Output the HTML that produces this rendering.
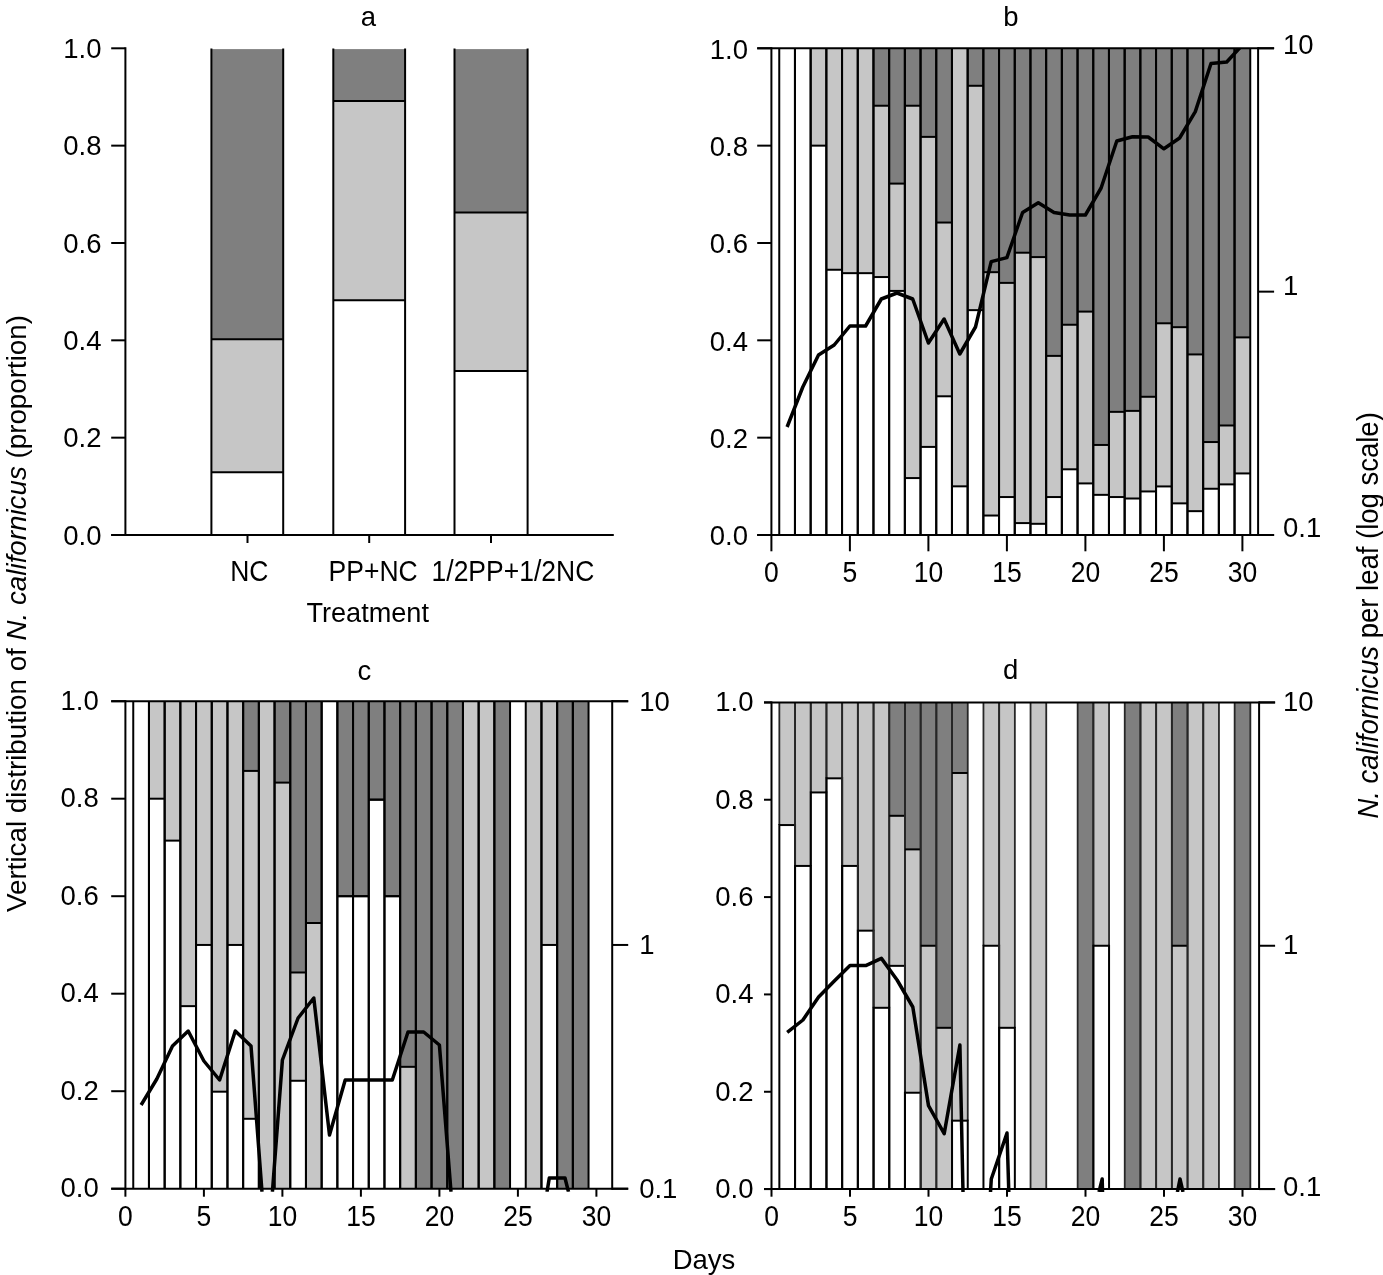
<!DOCTYPE html>
<html><head><meta charset="utf-8"><style>
html,body{margin:0;padding:0;background:#fff;}
body{width:1383px;height:1275px;overflow:hidden;}
svg{display:block;font-family:"Liberation Sans",sans-serif;filter:grayscale(100%);}
</style></head><body>
<svg width="1383" height="1275" viewBox="0 0 1383 1275">
<rect width="1383" height="1275" fill="#fff"/>
<defs>
<clipPath id="clipb"><rect x="771.4" y="48.3" width="486.69999999999993" height="489.7"/></clipPath>
<clipPath id="clipc"><rect x="125.4" y="701.2" width="486.80000000000007" height="490.5"/></clipPath>
<clipPath id="clipd"><rect x="771.5" y="702.4" width="487.5999999999999" height="489.69999999999993"/></clipPath>
</defs>
<g font-family="Liberation Sans, sans-serif" fill="#000">
<rect x="211.40" y="472.22" width="71.80" height="62.78" fill="#fff"/>
<rect x="211.40" y="339.35" width="71.80" height="132.87" fill="#c6c6c6"/>
<rect x="211.40" y="49.10" width="71.80" height="290.25" fill="#7f7f7f"/>
<rect x="333.30" y="300.17" width="71.80" height="234.83" fill="#fff"/>
<rect x="333.30" y="101.06" width="71.80" height="199.11" fill="#c6c6c6"/>
<rect x="333.30" y="49.10" width="71.80" height="51.96" fill="#7f7f7f"/>
<rect x="454.50" y="370.98" width="73.10" height="164.02" fill="#fff"/>
<rect x="454.50" y="212.61" width="73.10" height="158.37" fill="#c6c6c6"/>
<rect x="454.50" y="49.10" width="73.10" height="163.51" fill="#7f7f7f"/>
<line x1="211.40" y1="535.00" x2="211.40" y2="48.60" stroke="#000" stroke-width="2.0"/>
<line x1="283.20" y1="535.00" x2="283.20" y2="48.60" stroke="#000" stroke-width="2.0"/>
<line x1="211.40" y1="472.22" x2="283.20" y2="472.22" stroke="#000" stroke-width="2.0"/>
<line x1="211.40" y1="339.35" x2="283.20" y2="339.35" stroke="#000" stroke-width="2.0"/>
<line x1="333.30" y1="535.00" x2="333.30" y2="48.60" stroke="#000" stroke-width="2.0"/>
<line x1="405.10" y1="535.00" x2="405.10" y2="48.60" stroke="#000" stroke-width="2.0"/>
<line x1="333.30" y1="300.17" x2="405.10" y2="300.17" stroke="#000" stroke-width="2.0"/>
<line x1="333.30" y1="101.06" x2="405.10" y2="101.06" stroke="#000" stroke-width="2.0"/>
<line x1="454.50" y1="535.00" x2="454.50" y2="48.60" stroke="#000" stroke-width="2.0"/>
<line x1="527.60" y1="535.00" x2="527.60" y2="48.60" stroke="#000" stroke-width="2.0"/>
<line x1="454.50" y1="370.98" x2="527.60" y2="370.98" stroke="#000" stroke-width="2.0"/>
<line x1="454.50" y1="212.61" x2="527.60" y2="212.61" stroke="#000" stroke-width="2.0"/>
<line x1="125.40" y1="47.30" x2="125.40" y2="536.00" stroke="#000" stroke-width="2.0"/>
<line x1="111.20" y1="535.00" x2="613.80" y2="535.00" stroke="#000" stroke-width="2.0"/>
<line x1="111.20" y1="535.00" x2="125.40" y2="535.00" stroke="#000" stroke-width="2.0"/>
<text x="101.50" y="544.60" text-anchor="end" font-size="27.5" >0.0</text>
<line x1="111.20" y1="437.66" x2="125.40" y2="437.66" stroke="#000" stroke-width="2.0"/>
<text x="101.50" y="447.26" text-anchor="end" font-size="27.5" >0.2</text>
<line x1="111.20" y1="340.32" x2="125.40" y2="340.32" stroke="#000" stroke-width="2.0"/>
<text x="101.50" y="349.92" text-anchor="end" font-size="27.5" >0.4</text>
<line x1="111.20" y1="242.98" x2="125.40" y2="242.98" stroke="#000" stroke-width="2.0"/>
<text x="101.50" y="252.58" text-anchor="end" font-size="27.5" >0.6</text>
<line x1="111.20" y1="145.64" x2="125.40" y2="145.64" stroke="#000" stroke-width="2.0"/>
<text x="101.50" y="155.24" text-anchor="end" font-size="27.5" >0.8</text>
<line x1="111.20" y1="48.30" x2="125.40" y2="48.30" stroke="#000" stroke-width="2.0"/>
<text x="101.50" y="57.90" text-anchor="end" font-size="27.5" >1.0</text>
<line x1="247.50" y1="535.00" x2="247.50" y2="543.00" stroke="#000" stroke-width="2.0"/>
<line x1="369.20" y1="535.00" x2="369.20" y2="543.00" stroke="#000" stroke-width="2.0"/>
<line x1="491.00" y1="535.00" x2="491.00" y2="543.00" stroke="#000" stroke-width="2.0"/>
<text transform="translate(249.30,581.40) scale(1,1.14)" text-anchor="middle" font-size="26.5" >NC</text>
<text transform="translate(373.10,581.40) scale(1,1.14)" text-anchor="middle" font-size="26.5" >PP+NC</text>
<text transform="translate(512.90,581.40) scale(1,1.14)" text-anchor="middle" font-size="26.5" >1/2PP+1/2NC</text>
<text x="367.70" y="621.50" text-anchor="middle" font-size="27.1" >Treatment</text>
<text x="368.30" y="25.50" text-anchor="middle" font-size="27.5" >a</text>
<rect x="779.25" y="48.30" width="15.70" height="486.70" fill="#fff"/>
<rect x="794.95" y="48.30" width="15.70" height="486.70" fill="#fff"/>
<rect x="810.65" y="145.64" width="15.70" height="389.36" fill="#fff"/>
<rect x="810.65" y="48.30" width="15.70" height="97.34" fill="#c6c6c6"/>
<rect x="826.35" y="269.75" width="15.70" height="265.25" fill="#fff"/>
<rect x="826.35" y="48.30" width="15.70" height="221.45" fill="#c6c6c6"/>
<rect x="842.05" y="273.16" width="15.70" height="261.84" fill="#fff"/>
<rect x="842.05" y="48.30" width="15.70" height="224.86" fill="#c6c6c6"/>
<rect x="857.75" y="273.16" width="15.70" height="261.84" fill="#fff"/>
<rect x="857.75" y="48.30" width="15.70" height="224.86" fill="#c6c6c6"/>
<rect x="873.45" y="277.05" width="15.70" height="257.95" fill="#fff"/>
<rect x="873.45" y="105.73" width="15.70" height="171.32" fill="#c6c6c6"/>
<rect x="873.45" y="48.30" width="15.70" height="57.43" fill="#7f7f7f"/>
<rect x="889.15" y="290.92" width="15.70" height="244.08" fill="#fff"/>
<rect x="889.15" y="183.60" width="15.70" height="107.32" fill="#c6c6c6"/>
<rect x="889.15" y="48.30" width="15.70" height="135.30" fill="#7f7f7f"/>
<rect x="904.85" y="478.06" width="15.70" height="56.94" fill="#fff"/>
<rect x="904.85" y="105.73" width="15.70" height="372.33" fill="#c6c6c6"/>
<rect x="904.85" y="48.30" width="15.70" height="57.43" fill="#7f7f7f"/>
<rect x="920.55" y="446.91" width="15.70" height="88.09" fill="#fff"/>
<rect x="920.55" y="136.88" width="15.70" height="310.03" fill="#c6c6c6"/>
<rect x="920.55" y="48.30" width="15.70" height="88.58" fill="#7f7f7f"/>
<rect x="936.25" y="396.29" width="15.70" height="138.71" fill="#fff"/>
<rect x="936.25" y="222.54" width="15.70" height="173.75" fill="#c6c6c6"/>
<rect x="936.25" y="48.30" width="15.70" height="174.24" fill="#7f7f7f"/>
<rect x="951.95" y="486.33" width="15.70" height="48.67" fill="#fff"/>
<rect x="951.95" y="48.30" width="15.70" height="438.03" fill="#c6c6c6"/>
<rect x="967.65" y="310.14" width="15.70" height="224.86" fill="#fff"/>
<rect x="967.65" y="85.78" width="15.70" height="224.37" fill="#c6c6c6"/>
<rect x="967.65" y="48.30" width="15.70" height="37.48" fill="#7f7f7f"/>
<rect x="983.35" y="515.53" width="15.70" height="19.47" fill="#fff"/>
<rect x="983.35" y="272.18" width="15.70" height="243.35" fill="#c6c6c6"/>
<rect x="983.35" y="48.30" width="15.70" height="223.88" fill="#7f7f7f"/>
<rect x="999.05" y="497.04" width="15.70" height="37.96" fill="#fff"/>
<rect x="999.05" y="282.89" width="15.70" height="214.15" fill="#c6c6c6"/>
<rect x="999.05" y="48.30" width="15.70" height="234.59" fill="#7f7f7f"/>
<rect x="1014.75" y="523.08" width="15.70" height="11.92" fill="#fff"/>
<rect x="1014.75" y="252.71" width="15.70" height="270.36" fill="#c6c6c6"/>
<rect x="1014.75" y="48.30" width="15.70" height="204.41" fill="#7f7f7f"/>
<rect x="1030.45" y="523.81" width="15.70" height="11.19" fill="#fff"/>
<rect x="1030.45" y="257.09" width="15.70" height="266.71" fill="#c6c6c6"/>
<rect x="1030.45" y="48.30" width="15.70" height="208.79" fill="#7f7f7f"/>
<rect x="1046.15" y="497.04" width="15.70" height="37.96" fill="#fff"/>
<rect x="1046.15" y="355.89" width="15.70" height="141.14" fill="#c6c6c6"/>
<rect x="1046.15" y="48.30" width="15.70" height="307.59" fill="#7f7f7f"/>
<rect x="1061.85" y="469.30" width="15.70" height="65.70" fill="#fff"/>
<rect x="1061.85" y="324.75" width="15.70" height="144.55" fill="#c6c6c6"/>
<rect x="1061.85" y="48.30" width="15.70" height="276.45" fill="#7f7f7f"/>
<rect x="1077.55" y="483.41" width="15.70" height="51.59" fill="#fff"/>
<rect x="1077.55" y="311.60" width="15.70" height="171.81" fill="#c6c6c6"/>
<rect x="1077.55" y="48.30" width="15.70" height="263.30" fill="#7f7f7f"/>
<rect x="1093.25" y="494.85" width="15.70" height="40.15" fill="#fff"/>
<rect x="1093.25" y="444.96" width="15.70" height="49.89" fill="#c6c6c6"/>
<rect x="1093.25" y="48.30" width="15.70" height="396.66" fill="#7f7f7f"/>
<rect x="1108.95" y="497.04" width="15.70" height="37.96" fill="#fff"/>
<rect x="1108.95" y="411.86" width="15.70" height="85.17" fill="#c6c6c6"/>
<rect x="1108.95" y="48.30" width="15.70" height="363.56" fill="#7f7f7f"/>
<rect x="1124.65" y="498.50" width="15.70" height="36.50" fill="#fff"/>
<rect x="1124.65" y="410.89" width="15.70" height="87.61" fill="#c6c6c6"/>
<rect x="1124.65" y="48.30" width="15.70" height="362.59" fill="#7f7f7f"/>
<rect x="1140.35" y="491.44" width="15.70" height="43.56" fill="#fff"/>
<rect x="1140.35" y="396.78" width="15.70" height="94.66" fill="#c6c6c6"/>
<rect x="1140.35" y="48.30" width="15.70" height="348.48" fill="#7f7f7f"/>
<rect x="1156.05" y="486.43" width="15.70" height="48.57" fill="#fff"/>
<rect x="1156.05" y="323.29" width="15.70" height="163.14" fill="#c6c6c6"/>
<rect x="1156.05" y="48.30" width="15.70" height="274.99" fill="#7f7f7f"/>
<rect x="1171.75" y="503.36" width="15.70" height="31.64" fill="#fff"/>
<rect x="1171.75" y="327.18" width="15.70" height="176.19" fill="#c6c6c6"/>
<rect x="1171.75" y="48.30" width="15.70" height="278.88" fill="#7f7f7f"/>
<rect x="1187.45" y="511.15" width="15.70" height="23.85" fill="#fff"/>
<rect x="1187.45" y="354.43" width="15.70" height="156.72" fill="#c6c6c6"/>
<rect x="1187.45" y="48.30" width="15.70" height="306.13" fill="#7f7f7f"/>
<rect x="1203.15" y="488.76" width="15.70" height="46.24" fill="#fff"/>
<rect x="1203.15" y="442.04" width="15.70" height="46.72" fill="#c6c6c6"/>
<rect x="1203.15" y="48.30" width="15.70" height="393.74" fill="#7f7f7f"/>
<rect x="1218.85" y="484.38" width="15.70" height="50.62" fill="#fff"/>
<rect x="1218.85" y="425.49" width="15.70" height="58.89" fill="#c6c6c6"/>
<rect x="1218.85" y="48.30" width="15.70" height="377.19" fill="#7f7f7f"/>
<rect x="1234.55" y="473.43" width="15.70" height="61.57" fill="#fff"/>
<rect x="1234.55" y="337.40" width="15.70" height="136.03" fill="#c6c6c6"/>
<rect x="1234.55" y="48.30" width="15.70" height="289.10" fill="#7f7f7f"/>
<line x1="779.25" y1="535.00" x2="779.25" y2="48.30" stroke="#000" stroke-width="2.0"/>
<line x1="794.95" y1="535.00" x2="794.95" y2="48.30" stroke="#000" stroke-width="2.0"/>
<line x1="794.95" y1="535.00" x2="794.95" y2="48.30" stroke="#000" stroke-width="2.0"/>
<line x1="810.65" y1="535.00" x2="810.65" y2="48.30" stroke="#000" stroke-width="2.0"/>
<line x1="810.65" y1="535.00" x2="810.65" y2="48.30" stroke="#000" stroke-width="2.0"/>
<line x1="826.35" y1="535.00" x2="826.35" y2="48.30" stroke="#000" stroke-width="2.0"/>
<line x1="810.65" y1="145.64" x2="826.35" y2="145.64" stroke="#000" stroke-width="2.0"/>
<line x1="826.35" y1="535.00" x2="826.35" y2="48.30" stroke="#000" stroke-width="2.0"/>
<line x1="842.05" y1="535.00" x2="842.05" y2="48.30" stroke="#000" stroke-width="2.0"/>
<line x1="826.35" y1="269.75" x2="842.05" y2="269.75" stroke="#000" stroke-width="2.0"/>
<line x1="842.05" y1="535.00" x2="842.05" y2="48.30" stroke="#000" stroke-width="2.0"/>
<line x1="857.75" y1="535.00" x2="857.75" y2="48.30" stroke="#000" stroke-width="2.0"/>
<line x1="842.05" y1="273.16" x2="857.75" y2="273.16" stroke="#000" stroke-width="2.0"/>
<line x1="857.75" y1="535.00" x2="857.75" y2="48.30" stroke="#000" stroke-width="2.0"/>
<line x1="873.45" y1="535.00" x2="873.45" y2="48.30" stroke="#000" stroke-width="2.0"/>
<line x1="857.75" y1="273.16" x2="873.45" y2="273.16" stroke="#000" stroke-width="2.0"/>
<line x1="873.45" y1="535.00" x2="873.45" y2="48.30" stroke="#000" stroke-width="2.0"/>
<line x1="889.15" y1="535.00" x2="889.15" y2="48.30" stroke="#000" stroke-width="2.0"/>
<line x1="873.45" y1="277.05" x2="889.15" y2="277.05" stroke="#000" stroke-width="2.0"/>
<line x1="873.45" y1="105.73" x2="889.15" y2="105.73" stroke="#000" stroke-width="2.0"/>
<line x1="889.15" y1="535.00" x2="889.15" y2="48.30" stroke="#000" stroke-width="2.0"/>
<line x1="904.85" y1="535.00" x2="904.85" y2="48.30" stroke="#000" stroke-width="2.0"/>
<line x1="889.15" y1="290.92" x2="904.85" y2="290.92" stroke="#000" stroke-width="2.0"/>
<line x1="889.15" y1="183.60" x2="904.85" y2="183.60" stroke="#000" stroke-width="2.0"/>
<line x1="904.85" y1="535.00" x2="904.85" y2="48.30" stroke="#000" stroke-width="2.0"/>
<line x1="920.55" y1="535.00" x2="920.55" y2="48.30" stroke="#000" stroke-width="2.0"/>
<line x1="904.85" y1="478.06" x2="920.55" y2="478.06" stroke="#000" stroke-width="2.0"/>
<line x1="904.85" y1="105.73" x2="920.55" y2="105.73" stroke="#000" stroke-width="2.0"/>
<line x1="920.55" y1="535.00" x2="920.55" y2="48.30" stroke="#000" stroke-width="2.0"/>
<line x1="936.25" y1="535.00" x2="936.25" y2="48.30" stroke="#000" stroke-width="2.0"/>
<line x1="920.55" y1="446.91" x2="936.25" y2="446.91" stroke="#000" stroke-width="2.0"/>
<line x1="920.55" y1="136.88" x2="936.25" y2="136.88" stroke="#000" stroke-width="2.0"/>
<line x1="936.25" y1="535.00" x2="936.25" y2="48.30" stroke="#000" stroke-width="2.0"/>
<line x1="951.95" y1="535.00" x2="951.95" y2="48.30" stroke="#000" stroke-width="2.0"/>
<line x1="936.25" y1="396.29" x2="951.95" y2="396.29" stroke="#000" stroke-width="2.0"/>
<line x1="936.25" y1="222.54" x2="951.95" y2="222.54" stroke="#000" stroke-width="2.0"/>
<line x1="951.95" y1="535.00" x2="951.95" y2="48.30" stroke="#000" stroke-width="2.0"/>
<line x1="967.65" y1="535.00" x2="967.65" y2="48.30" stroke="#000" stroke-width="2.0"/>
<line x1="951.95" y1="486.33" x2="967.65" y2="486.33" stroke="#000" stroke-width="2.0"/>
<line x1="967.65" y1="535.00" x2="967.65" y2="48.30" stroke="#000" stroke-width="2.0"/>
<line x1="983.35" y1="535.00" x2="983.35" y2="48.30" stroke="#000" stroke-width="2.0"/>
<line x1="967.65" y1="310.14" x2="983.35" y2="310.14" stroke="#000" stroke-width="2.0"/>
<line x1="967.65" y1="85.78" x2="983.35" y2="85.78" stroke="#000" stroke-width="2.0"/>
<line x1="983.35" y1="535.00" x2="983.35" y2="48.30" stroke="#000" stroke-width="2.0"/>
<line x1="999.05" y1="535.00" x2="999.05" y2="48.30" stroke="#000" stroke-width="2.0"/>
<line x1="983.35" y1="515.53" x2="999.05" y2="515.53" stroke="#000" stroke-width="2.0"/>
<line x1="983.35" y1="272.18" x2="999.05" y2="272.18" stroke="#000" stroke-width="2.0"/>
<line x1="999.05" y1="535.00" x2="999.05" y2="48.30" stroke="#000" stroke-width="2.0"/>
<line x1="1014.75" y1="535.00" x2="1014.75" y2="48.30" stroke="#000" stroke-width="2.0"/>
<line x1="999.05" y1="497.04" x2="1014.75" y2="497.04" stroke="#000" stroke-width="2.0"/>
<line x1="999.05" y1="282.89" x2="1014.75" y2="282.89" stroke="#000" stroke-width="2.0"/>
<line x1="1014.75" y1="535.00" x2="1014.75" y2="48.30" stroke="#000" stroke-width="2.0"/>
<line x1="1030.45" y1="535.00" x2="1030.45" y2="48.30" stroke="#000" stroke-width="2.0"/>
<line x1="1014.75" y1="523.08" x2="1030.45" y2="523.08" stroke="#000" stroke-width="2.0"/>
<line x1="1014.75" y1="252.71" x2="1030.45" y2="252.71" stroke="#000" stroke-width="2.0"/>
<line x1="1030.45" y1="535.00" x2="1030.45" y2="48.30" stroke="#000" stroke-width="2.0"/>
<line x1="1046.15" y1="535.00" x2="1046.15" y2="48.30" stroke="#000" stroke-width="2.0"/>
<line x1="1030.45" y1="523.81" x2="1046.15" y2="523.81" stroke="#000" stroke-width="2.0"/>
<line x1="1030.45" y1="257.09" x2="1046.15" y2="257.09" stroke="#000" stroke-width="2.0"/>
<line x1="1046.15" y1="535.00" x2="1046.15" y2="48.30" stroke="#000" stroke-width="2.0"/>
<line x1="1061.85" y1="535.00" x2="1061.85" y2="48.30" stroke="#000" stroke-width="2.0"/>
<line x1="1046.15" y1="497.04" x2="1061.85" y2="497.04" stroke="#000" stroke-width="2.0"/>
<line x1="1046.15" y1="355.89" x2="1061.85" y2="355.89" stroke="#000" stroke-width="2.0"/>
<line x1="1061.85" y1="535.00" x2="1061.85" y2="48.30" stroke="#000" stroke-width="2.0"/>
<line x1="1077.55" y1="535.00" x2="1077.55" y2="48.30" stroke="#000" stroke-width="2.0"/>
<line x1="1061.85" y1="469.30" x2="1077.55" y2="469.30" stroke="#000" stroke-width="2.0"/>
<line x1="1061.85" y1="324.75" x2="1077.55" y2="324.75" stroke="#000" stroke-width="2.0"/>
<line x1="1077.55" y1="535.00" x2="1077.55" y2="48.30" stroke="#000" stroke-width="2.0"/>
<line x1="1093.25" y1="535.00" x2="1093.25" y2="48.30" stroke="#000" stroke-width="2.0"/>
<line x1="1077.55" y1="483.41" x2="1093.25" y2="483.41" stroke="#000" stroke-width="2.0"/>
<line x1="1077.55" y1="311.60" x2="1093.25" y2="311.60" stroke="#000" stroke-width="2.0"/>
<line x1="1093.25" y1="535.00" x2="1093.25" y2="48.30" stroke="#000" stroke-width="2.0"/>
<line x1="1108.95" y1="535.00" x2="1108.95" y2="48.30" stroke="#000" stroke-width="2.0"/>
<line x1="1093.25" y1="494.85" x2="1108.95" y2="494.85" stroke="#000" stroke-width="2.0"/>
<line x1="1093.25" y1="444.96" x2="1108.95" y2="444.96" stroke="#000" stroke-width="2.0"/>
<line x1="1108.95" y1="535.00" x2="1108.95" y2="48.30" stroke="#000" stroke-width="2.0"/>
<line x1="1124.65" y1="535.00" x2="1124.65" y2="48.30" stroke="#000" stroke-width="2.0"/>
<line x1="1108.95" y1="497.04" x2="1124.65" y2="497.04" stroke="#000" stroke-width="2.0"/>
<line x1="1108.95" y1="411.86" x2="1124.65" y2="411.86" stroke="#000" stroke-width="2.0"/>
<line x1="1124.65" y1="535.00" x2="1124.65" y2="48.30" stroke="#000" stroke-width="2.0"/>
<line x1="1140.35" y1="535.00" x2="1140.35" y2="48.30" stroke="#000" stroke-width="2.0"/>
<line x1="1124.65" y1="498.50" x2="1140.35" y2="498.50" stroke="#000" stroke-width="2.0"/>
<line x1="1124.65" y1="410.89" x2="1140.35" y2="410.89" stroke="#000" stroke-width="2.0"/>
<line x1="1140.35" y1="535.00" x2="1140.35" y2="48.30" stroke="#000" stroke-width="2.0"/>
<line x1="1156.05" y1="535.00" x2="1156.05" y2="48.30" stroke="#000" stroke-width="2.0"/>
<line x1="1140.35" y1="491.44" x2="1156.05" y2="491.44" stroke="#000" stroke-width="2.0"/>
<line x1="1140.35" y1="396.78" x2="1156.05" y2="396.78" stroke="#000" stroke-width="2.0"/>
<line x1="1156.05" y1="535.00" x2="1156.05" y2="48.30" stroke="#000" stroke-width="2.0"/>
<line x1="1171.75" y1="535.00" x2="1171.75" y2="48.30" stroke="#000" stroke-width="2.0"/>
<line x1="1156.05" y1="486.43" x2="1171.75" y2="486.43" stroke="#000" stroke-width="2.0"/>
<line x1="1156.05" y1="323.29" x2="1171.75" y2="323.29" stroke="#000" stroke-width="2.0"/>
<line x1="1171.75" y1="535.00" x2="1171.75" y2="48.30" stroke="#000" stroke-width="2.0"/>
<line x1="1187.45" y1="535.00" x2="1187.45" y2="48.30" stroke="#000" stroke-width="2.0"/>
<line x1="1171.75" y1="503.36" x2="1187.45" y2="503.36" stroke="#000" stroke-width="2.0"/>
<line x1="1171.75" y1="327.18" x2="1187.45" y2="327.18" stroke="#000" stroke-width="2.0"/>
<line x1="1187.45" y1="535.00" x2="1187.45" y2="48.30" stroke="#000" stroke-width="2.0"/>
<line x1="1203.15" y1="535.00" x2="1203.15" y2="48.30" stroke="#000" stroke-width="2.0"/>
<line x1="1187.45" y1="511.15" x2="1203.15" y2="511.15" stroke="#000" stroke-width="2.0"/>
<line x1="1187.45" y1="354.43" x2="1203.15" y2="354.43" stroke="#000" stroke-width="2.0"/>
<line x1="1203.15" y1="535.00" x2="1203.15" y2="48.30" stroke="#000" stroke-width="2.0"/>
<line x1="1218.85" y1="535.00" x2="1218.85" y2="48.30" stroke="#000" stroke-width="2.0"/>
<line x1="1203.15" y1="488.76" x2="1218.85" y2="488.76" stroke="#000" stroke-width="2.0"/>
<line x1="1203.15" y1="442.04" x2="1218.85" y2="442.04" stroke="#000" stroke-width="2.0"/>
<line x1="1218.85" y1="535.00" x2="1218.85" y2="48.30" stroke="#000" stroke-width="2.0"/>
<line x1="1234.55" y1="535.00" x2="1234.55" y2="48.30" stroke="#000" stroke-width="2.0"/>
<line x1="1218.85" y1="484.38" x2="1234.55" y2="484.38" stroke="#000" stroke-width="2.0"/>
<line x1="1218.85" y1="425.49" x2="1234.55" y2="425.49" stroke="#000" stroke-width="2.0"/>
<line x1="1234.55" y1="535.00" x2="1234.55" y2="48.30" stroke="#000" stroke-width="2.0"/>
<line x1="1250.25" y1="535.00" x2="1250.25" y2="48.30" stroke="#000" stroke-width="2.0"/>
<line x1="1234.55" y1="473.43" x2="1250.25" y2="473.43" stroke="#000" stroke-width="2.0"/>
<line x1="1234.55" y1="337.40" x2="1250.25" y2="337.40" stroke="#000" stroke-width="2.0"/>
<line x1="771.40" y1="47.30" x2="771.40" y2="536.00" stroke="#000" stroke-width="2.0"/>
<line x1="1258.10" y1="47.30" x2="1258.10" y2="536.00" stroke="#000" stroke-width="2.0"/>
<line x1="757.20" y1="48.30" x2="1274.10" y2="48.30" stroke="#000" stroke-width="2.0"/>
<line x1="757.20" y1="535.00" x2="1274.10" y2="535.00" stroke="#000" stroke-width="2.0"/>
<line x1="757.20" y1="535.00" x2="771.40" y2="535.00" stroke="#000" stroke-width="2.0"/>
<text x="748.00" y="545.30" text-anchor="end" font-size="27.5" >0.0</text>
<line x1="757.20" y1="437.66" x2="771.40" y2="437.66" stroke="#000" stroke-width="2.0"/>
<text x="748.00" y="447.96" text-anchor="end" font-size="27.5" >0.2</text>
<line x1="757.20" y1="340.32" x2="771.40" y2="340.32" stroke="#000" stroke-width="2.0"/>
<text x="748.00" y="350.62" text-anchor="end" font-size="27.5" >0.4</text>
<line x1="757.20" y1="242.98" x2="771.40" y2="242.98" stroke="#000" stroke-width="2.0"/>
<text x="748.00" y="253.28" text-anchor="end" font-size="27.5" >0.6</text>
<line x1="757.20" y1="145.64" x2="771.40" y2="145.64" stroke="#000" stroke-width="2.0"/>
<text x="748.00" y="155.94" text-anchor="end" font-size="27.5" >0.8</text>
<line x1="757.20" y1="48.30" x2="771.40" y2="48.30" stroke="#000" stroke-width="2.0"/>
<text x="748.00" y="58.60" text-anchor="end" font-size="27.5" >1.0</text>
<line x1="1258.10" y1="48.30" x2="1274.10" y2="48.30" stroke="#000" stroke-width="2.0"/>
<text x="1283.00" y="53.70" text-anchor="start" font-size="27.5" >10</text>
<line x1="1258.10" y1="291.65" x2="1274.10" y2="291.65" stroke="#000" stroke-width="2.0"/>
<text x="1283.00" y="295.40" text-anchor="start" font-size="27.5" >1</text>
<line x1="1258.10" y1="535.00" x2="1274.10" y2="535.00" stroke="#000" stroke-width="2.0"/>
<text x="1283.00" y="537.20" text-anchor="start" font-size="27.5" >0.1</text>
<line x1="771.40" y1="535.00" x2="771.40" y2="551.30" stroke="#000" stroke-width="2.0"/>
<text transform="translate(771.40,581.50) scale(1,1.1)" text-anchor="middle" font-size="26.5" >0</text>
<line x1="849.90" y1="535.00" x2="849.90" y2="551.30" stroke="#000" stroke-width="2.0"/>
<text transform="translate(849.90,581.50) scale(1,1.1)" text-anchor="middle" font-size="26.5" >5</text>
<line x1="928.40" y1="535.00" x2="928.40" y2="551.30" stroke="#000" stroke-width="2.0"/>
<text transform="translate(928.40,581.50) scale(1,1.1)" text-anchor="middle" font-size="26.5" >10</text>
<line x1="1006.90" y1="535.00" x2="1006.90" y2="551.30" stroke="#000" stroke-width="2.0"/>
<text transform="translate(1006.90,581.50) scale(1,1.1)" text-anchor="middle" font-size="26.5" >15</text>
<line x1="1085.40" y1="535.00" x2="1085.40" y2="551.30" stroke="#000" stroke-width="2.0"/>
<text transform="translate(1085.40,581.50) scale(1,1.1)" text-anchor="middle" font-size="26.5" >20</text>
<line x1="1163.90" y1="535.00" x2="1163.90" y2="551.30" stroke="#000" stroke-width="2.0"/>
<text transform="translate(1163.90,581.50) scale(1,1.1)" text-anchor="middle" font-size="26.5" >25</text>
<line x1="1242.40" y1="535.00" x2="1242.40" y2="551.30" stroke="#000" stroke-width="2.0"/>
<text transform="translate(1242.40,581.50) scale(1,1.1)" text-anchor="middle" font-size="26.5" >30</text>
<text x="1010.80" y="25.50" text-anchor="middle" font-size="27.5" >b</text>
<rect x="133.25" y="701.20" width="15.70" height="487.50" fill="#fff"/>
<rect x="148.95" y="798.70" width="15.70" height="390.00" fill="#fff"/>
<rect x="148.95" y="701.20" width="15.70" height="97.50" fill="#c6c6c6"/>
<rect x="164.65" y="840.62" width="15.70" height="348.08" fill="#fff"/>
<rect x="164.65" y="701.20" width="15.70" height="139.42" fill="#c6c6c6"/>
<rect x="180.35" y="1006.13" width="15.70" height="182.57" fill="#fff"/>
<rect x="180.35" y="701.20" width="15.70" height="304.93" fill="#c6c6c6"/>
<rect x="196.05" y="944.95" width="15.70" height="243.75" fill="#fff"/>
<rect x="196.05" y="701.20" width="15.70" height="243.75" fill="#c6c6c6"/>
<rect x="211.75" y="1091.69" width="15.70" height="97.01" fill="#fff"/>
<rect x="211.75" y="701.20" width="15.70" height="390.49" fill="#c6c6c6"/>
<rect x="227.45" y="944.95" width="15.70" height="243.75" fill="#fff"/>
<rect x="227.45" y="701.20" width="15.70" height="243.75" fill="#c6c6c6"/>
<rect x="243.15" y="1118.79" width="15.70" height="69.91" fill="#fff"/>
<rect x="243.15" y="770.91" width="15.70" height="347.88" fill="#c6c6c6"/>
<rect x="243.15" y="701.20" width="15.70" height="69.71" fill="#7f7f7f"/>
<rect x="258.85" y="701.20" width="15.70" height="487.50" fill="#c6c6c6"/>
<rect x="274.55" y="782.61" width="15.70" height="406.09" fill="#c6c6c6"/>
<rect x="274.55" y="701.20" width="15.70" height="81.41" fill="#7f7f7f"/>
<rect x="290.25" y="1080.77" width="15.70" height="107.93" fill="#fff"/>
<rect x="290.25" y="972.49" width="15.70" height="108.27" fill="#c6c6c6"/>
<rect x="290.25" y="701.20" width="15.70" height="271.29" fill="#7f7f7f"/>
<rect x="305.95" y="923.01" width="15.70" height="265.69" fill="#c6c6c6"/>
<rect x="305.95" y="701.20" width="15.70" height="221.81" fill="#7f7f7f"/>
<rect x="321.65" y="701.20" width="15.70" height="487.50" fill="#fff"/>
<rect x="337.35" y="896.20" width="15.70" height="292.50" fill="#fff"/>
<rect x="337.35" y="701.20" width="15.70" height="195.00" fill="#7f7f7f"/>
<rect x="353.05" y="896.20" width="15.70" height="292.50" fill="#fff"/>
<rect x="353.05" y="701.20" width="15.70" height="195.00" fill="#7f7f7f"/>
<rect x="368.75" y="799.67" width="15.70" height="389.03" fill="#fff"/>
<rect x="368.75" y="701.20" width="15.70" height="98.47" fill="#7f7f7f"/>
<rect x="384.45" y="896.20" width="15.70" height="292.50" fill="#fff"/>
<rect x="384.45" y="701.20" width="15.70" height="195.00" fill="#7f7f7f"/>
<rect x="400.15" y="1066.83" width="15.70" height="121.88" fill="#c6c6c6"/>
<rect x="400.15" y="701.20" width="15.70" height="365.62" fill="#7f7f7f"/>
<rect x="415.85" y="701.20" width="15.70" height="487.50" fill="#7f7f7f"/>
<rect x="431.55" y="701.20" width="15.70" height="487.50" fill="#7f7f7f"/>
<rect x="447.25" y="701.20" width="15.70" height="487.50" fill="#7f7f7f"/>
<rect x="462.95" y="701.20" width="15.70" height="487.50" fill="#c6c6c6"/>
<rect x="478.65" y="701.20" width="15.70" height="487.50" fill="#c6c6c6"/>
<rect x="494.35" y="701.20" width="15.70" height="487.50" fill="#7f7f7f"/>
<rect x="525.75" y="701.20" width="15.70" height="487.50" fill="#c6c6c6"/>
<rect x="541.45" y="944.95" width="15.70" height="243.75" fill="#fff"/>
<rect x="541.45" y="701.20" width="15.70" height="243.75" fill="#c6c6c6"/>
<rect x="557.15" y="701.20" width="15.70" height="487.50" fill="#7f7f7f"/>
<rect x="572.85" y="701.20" width="15.70" height="487.50" fill="#7f7f7f"/>
<line x1="133.25" y1="1188.70" x2="133.25" y2="701.20" stroke="#000" stroke-width="2.0"/>
<line x1="148.95" y1="1188.70" x2="148.95" y2="701.20" stroke="#000" stroke-width="2.0"/>
<line x1="148.95" y1="1188.70" x2="148.95" y2="701.20" stroke="#000" stroke-width="2.0"/>
<line x1="164.65" y1="1188.70" x2="164.65" y2="701.20" stroke="#000" stroke-width="2.0"/>
<line x1="148.95" y1="798.70" x2="164.65" y2="798.70" stroke="#000" stroke-width="2.0"/>
<line x1="164.65" y1="1188.70" x2="164.65" y2="701.20" stroke="#000" stroke-width="2.0"/>
<line x1="180.35" y1="1188.70" x2="180.35" y2="701.20" stroke="#000" stroke-width="2.0"/>
<line x1="164.65" y1="840.62" x2="180.35" y2="840.62" stroke="#000" stroke-width="2.0"/>
<line x1="180.35" y1="1188.70" x2="180.35" y2="701.20" stroke="#000" stroke-width="2.0"/>
<line x1="196.05" y1="1188.70" x2="196.05" y2="701.20" stroke="#000" stroke-width="2.0"/>
<line x1="180.35" y1="1006.13" x2="196.05" y2="1006.13" stroke="#000" stroke-width="2.0"/>
<line x1="196.05" y1="1188.70" x2="196.05" y2="701.20" stroke="#000" stroke-width="2.0"/>
<line x1="211.75" y1="1188.70" x2="211.75" y2="701.20" stroke="#000" stroke-width="2.0"/>
<line x1="196.05" y1="944.95" x2="211.75" y2="944.95" stroke="#000" stroke-width="2.0"/>
<line x1="211.75" y1="1188.70" x2="211.75" y2="701.20" stroke="#000" stroke-width="2.0"/>
<line x1="227.45" y1="1188.70" x2="227.45" y2="701.20" stroke="#000" stroke-width="2.0"/>
<line x1="211.75" y1="1091.69" x2="227.45" y2="1091.69" stroke="#000" stroke-width="2.0"/>
<line x1="227.45" y1="1188.70" x2="227.45" y2="701.20" stroke="#000" stroke-width="2.0"/>
<line x1="243.15" y1="1188.70" x2="243.15" y2="701.20" stroke="#000" stroke-width="2.0"/>
<line x1="227.45" y1="944.95" x2="243.15" y2="944.95" stroke="#000" stroke-width="2.0"/>
<line x1="243.15" y1="1188.70" x2="243.15" y2="701.20" stroke="#000" stroke-width="2.0"/>
<line x1="258.85" y1="1188.70" x2="258.85" y2="701.20" stroke="#000" stroke-width="2.0"/>
<line x1="243.15" y1="1118.79" x2="258.85" y2="1118.79" stroke="#000" stroke-width="2.0"/>
<line x1="243.15" y1="770.91" x2="258.85" y2="770.91" stroke="#000" stroke-width="2.0"/>
<line x1="258.85" y1="1188.70" x2="258.85" y2="701.20" stroke="#000" stroke-width="2.0"/>
<line x1="274.55" y1="1188.70" x2="274.55" y2="701.20" stroke="#000" stroke-width="2.0"/>
<line x1="274.55" y1="1188.70" x2="274.55" y2="701.20" stroke="#000" stroke-width="2.0"/>
<line x1="290.25" y1="1188.70" x2="290.25" y2="701.20" stroke="#000" stroke-width="2.0"/>
<line x1="274.55" y1="782.61" x2="290.25" y2="782.61" stroke="#000" stroke-width="2.0"/>
<line x1="290.25" y1="1188.70" x2="290.25" y2="701.20" stroke="#000" stroke-width="2.0"/>
<line x1="305.95" y1="1188.70" x2="305.95" y2="701.20" stroke="#000" stroke-width="2.0"/>
<line x1="290.25" y1="1080.77" x2="305.95" y2="1080.77" stroke="#000" stroke-width="2.0"/>
<line x1="290.25" y1="972.49" x2="305.95" y2="972.49" stroke="#000" stroke-width="2.0"/>
<line x1="305.95" y1="1188.70" x2="305.95" y2="701.20" stroke="#000" stroke-width="2.0"/>
<line x1="321.65" y1="1188.70" x2="321.65" y2="701.20" stroke="#000" stroke-width="2.0"/>
<line x1="305.95" y1="923.01" x2="321.65" y2="923.01" stroke="#000" stroke-width="2.0"/>
<line x1="321.65" y1="1188.70" x2="321.65" y2="701.20" stroke="#000" stroke-width="2.0"/>
<line x1="337.35" y1="1188.70" x2="337.35" y2="701.20" stroke="#000" stroke-width="2.0"/>
<line x1="337.35" y1="1188.70" x2="337.35" y2="701.20" stroke="#000" stroke-width="2.0"/>
<line x1="353.05" y1="1188.70" x2="353.05" y2="701.20" stroke="#000" stroke-width="2.0"/>
<line x1="337.35" y1="896.20" x2="353.05" y2="896.20" stroke="#000" stroke-width="2.0"/>
<line x1="337.35" y1="896.20" x2="353.05" y2="896.20" stroke="#000" stroke-width="2.0"/>
<line x1="353.05" y1="1188.70" x2="353.05" y2="701.20" stroke="#000" stroke-width="2.0"/>
<line x1="368.75" y1="1188.70" x2="368.75" y2="701.20" stroke="#000" stroke-width="2.0"/>
<line x1="353.05" y1="896.20" x2="368.75" y2="896.20" stroke="#000" stroke-width="2.0"/>
<line x1="353.05" y1="896.20" x2="368.75" y2="896.20" stroke="#000" stroke-width="2.0"/>
<line x1="368.75" y1="1188.70" x2="368.75" y2="701.20" stroke="#000" stroke-width="2.0"/>
<line x1="384.45" y1="1188.70" x2="384.45" y2="701.20" stroke="#000" stroke-width="2.0"/>
<line x1="368.75" y1="799.67" x2="384.45" y2="799.67" stroke="#000" stroke-width="2.0"/>
<line x1="368.75" y1="799.67" x2="384.45" y2="799.67" stroke="#000" stroke-width="2.0"/>
<line x1="384.45" y1="1188.70" x2="384.45" y2="701.20" stroke="#000" stroke-width="2.0"/>
<line x1="400.15" y1="1188.70" x2="400.15" y2="701.20" stroke="#000" stroke-width="2.0"/>
<line x1="384.45" y1="896.20" x2="400.15" y2="896.20" stroke="#000" stroke-width="2.0"/>
<line x1="384.45" y1="896.20" x2="400.15" y2="896.20" stroke="#000" stroke-width="2.0"/>
<line x1="400.15" y1="1188.70" x2="400.15" y2="701.20" stroke="#000" stroke-width="2.0"/>
<line x1="415.85" y1="1188.70" x2="415.85" y2="701.20" stroke="#000" stroke-width="2.0"/>
<line x1="400.15" y1="1066.83" x2="415.85" y2="1066.83" stroke="#000" stroke-width="2.0"/>
<line x1="415.85" y1="1188.70" x2="415.85" y2="701.20" stroke="#000" stroke-width="2.0"/>
<line x1="431.55" y1="1188.70" x2="431.55" y2="701.20" stroke="#000" stroke-width="2.0"/>
<line x1="431.55" y1="1188.70" x2="431.55" y2="701.20" stroke="#000" stroke-width="2.0"/>
<line x1="447.25" y1="1188.70" x2="447.25" y2="701.20" stroke="#000" stroke-width="2.0"/>
<line x1="447.25" y1="1188.70" x2="447.25" y2="701.20" stroke="#000" stroke-width="2.0"/>
<line x1="462.95" y1="1188.70" x2="462.95" y2="701.20" stroke="#000" stroke-width="2.0"/>
<line x1="462.95" y1="1188.70" x2="462.95" y2="701.20" stroke="#000" stroke-width="2.0"/>
<line x1="478.65" y1="1188.70" x2="478.65" y2="701.20" stroke="#000" stroke-width="2.0"/>
<line x1="478.65" y1="1188.70" x2="478.65" y2="701.20" stroke="#000" stroke-width="2.0"/>
<line x1="494.35" y1="1188.70" x2="494.35" y2="701.20" stroke="#000" stroke-width="2.0"/>
<line x1="494.35" y1="1188.70" x2="494.35" y2="701.20" stroke="#000" stroke-width="2.0"/>
<line x1="510.05" y1="1188.70" x2="510.05" y2="701.20" stroke="#000" stroke-width="2.0"/>
<line x1="525.75" y1="1188.70" x2="525.75" y2="701.20" stroke="#000" stroke-width="2.0"/>
<line x1="541.45" y1="1188.70" x2="541.45" y2="701.20" stroke="#000" stroke-width="2.0"/>
<line x1="541.45" y1="1188.70" x2="541.45" y2="701.20" stroke="#000" stroke-width="2.0"/>
<line x1="557.15" y1="1188.70" x2="557.15" y2="701.20" stroke="#000" stroke-width="2.0"/>
<line x1="541.45" y1="944.95" x2="557.15" y2="944.95" stroke="#000" stroke-width="2.0"/>
<line x1="557.15" y1="1188.70" x2="557.15" y2="701.20" stroke="#000" stroke-width="2.0"/>
<line x1="572.85" y1="1188.70" x2="572.85" y2="701.20" stroke="#000" stroke-width="2.0"/>
<line x1="572.85" y1="1188.70" x2="572.85" y2="701.20" stroke="#000" stroke-width="2.0"/>
<line x1="588.55" y1="1188.70" x2="588.55" y2="701.20" stroke="#000" stroke-width="2.0"/>
<line x1="125.40" y1="700.20" x2="125.40" y2="1189.70" stroke="#000" stroke-width="2.0"/>
<line x1="612.20" y1="700.20" x2="612.20" y2="1189.70" stroke="#000" stroke-width="2.0"/>
<line x1="111.20" y1="701.20" x2="628.20" y2="701.20" stroke="#000" stroke-width="2.0"/>
<line x1="111.20" y1="1188.70" x2="628.20" y2="1188.70" stroke="#000" stroke-width="2.0"/>
<line x1="111.20" y1="1188.70" x2="125.40" y2="1188.70" stroke="#000" stroke-width="2.0"/>
<text x="98.70" y="1197.30" text-anchor="end" font-size="27.5" >0.0</text>
<line x1="111.20" y1="1091.20" x2="125.40" y2="1091.20" stroke="#000" stroke-width="2.0"/>
<text x="98.70" y="1099.80" text-anchor="end" font-size="27.5" >0.2</text>
<line x1="111.20" y1="993.70" x2="125.40" y2="993.70" stroke="#000" stroke-width="2.0"/>
<text x="98.70" y="1002.30" text-anchor="end" font-size="27.5" >0.4</text>
<line x1="111.20" y1="896.20" x2="125.40" y2="896.20" stroke="#000" stroke-width="2.0"/>
<text x="98.70" y="904.80" text-anchor="end" font-size="27.5" >0.6</text>
<line x1="111.20" y1="798.70" x2="125.40" y2="798.70" stroke="#000" stroke-width="2.0"/>
<text x="98.70" y="807.30" text-anchor="end" font-size="27.5" >0.8</text>
<line x1="111.20" y1="701.20" x2="125.40" y2="701.20" stroke="#000" stroke-width="2.0"/>
<text x="98.70" y="709.80" text-anchor="end" font-size="27.5" >1.0</text>
<line x1="612.20" y1="701.20" x2="628.20" y2="701.20" stroke="#000" stroke-width="2.0"/>
<text x="639.20" y="710.60" text-anchor="start" font-size="27.5" >10</text>
<line x1="612.20" y1="944.95" x2="628.20" y2="944.95" stroke="#000" stroke-width="2.0"/>
<text x="639.20" y="953.90" text-anchor="start" font-size="27.5" >1</text>
<line x1="612.20" y1="1188.70" x2="628.20" y2="1188.70" stroke="#000" stroke-width="2.0"/>
<text x="639.20" y="1197.70" text-anchor="start" font-size="27.5" >0.1</text>
<line x1="125.40" y1="1188.70" x2="125.40" y2="1196.70" stroke="#000" stroke-width="2.0"/>
<text transform="translate(125.40,1226.00) scale(1,1.1)" text-anchor="middle" font-size="26.5" >0</text>
<line x1="203.90" y1="1188.70" x2="203.90" y2="1196.70" stroke="#000" stroke-width="2.0"/>
<text transform="translate(203.90,1226.00) scale(1,1.1)" text-anchor="middle" font-size="26.5" >5</text>
<line x1="282.40" y1="1188.70" x2="282.40" y2="1196.70" stroke="#000" stroke-width="2.0"/>
<text transform="translate(282.40,1226.00) scale(1,1.1)" text-anchor="middle" font-size="26.5" >10</text>
<line x1="360.90" y1="1188.70" x2="360.90" y2="1196.70" stroke="#000" stroke-width="2.0"/>
<text transform="translate(360.90,1226.00) scale(1,1.1)" text-anchor="middle" font-size="26.5" >15</text>
<line x1="439.40" y1="1188.70" x2="439.40" y2="1196.70" stroke="#000" stroke-width="2.0"/>
<text transform="translate(439.40,1226.00) scale(1,1.1)" text-anchor="middle" font-size="26.5" >20</text>
<line x1="517.90" y1="1188.70" x2="517.90" y2="1196.70" stroke="#000" stroke-width="2.0"/>
<text transform="translate(517.90,1226.00) scale(1,1.1)" text-anchor="middle" font-size="26.5" >25</text>
<line x1="596.40" y1="1188.70" x2="596.40" y2="1196.70" stroke="#000" stroke-width="2.0"/>
<text transform="translate(596.40,1226.00) scale(1,1.1)" text-anchor="middle" font-size="26.5" >30</text>
<text x="364.40" y="679.50" text-anchor="middle" font-size="27.5" >c</text>
<rect x="779.35" y="825.05" width="15.70" height="364.05" fill="#fff"/>
<rect x="779.35" y="702.40" width="15.70" height="122.65" fill="#c6c6c6"/>
<rect x="795.05" y="865.93" width="15.70" height="323.17" fill="#fff"/>
<rect x="795.05" y="702.40" width="15.70" height="163.53" fill="#c6c6c6"/>
<rect x="810.75" y="792.44" width="15.70" height="396.66" fill="#fff"/>
<rect x="810.75" y="702.40" width="15.70" height="90.04" fill="#c6c6c6"/>
<rect x="826.45" y="778.33" width="15.70" height="410.77" fill="#fff"/>
<rect x="826.45" y="702.40" width="15.70" height="75.93" fill="#c6c6c6"/>
<rect x="842.15" y="865.93" width="15.70" height="323.17" fill="#fff"/>
<rect x="842.15" y="702.40" width="15.70" height="163.53" fill="#c6c6c6"/>
<rect x="857.85" y="930.66" width="15.70" height="258.44" fill="#fff"/>
<rect x="857.85" y="702.40" width="15.70" height="228.26" fill="#c6c6c6"/>
<rect x="873.55" y="1007.80" width="15.70" height="181.30" fill="#fff"/>
<rect x="873.55" y="702.40" width="15.70" height="305.40" fill="#c6c6c6"/>
<rect x="889.25" y="965.85" width="15.70" height="223.25" fill="#fff"/>
<rect x="889.25" y="815.80" width="15.70" height="150.05" fill="#c6c6c6"/>
<rect x="889.25" y="702.40" width="15.70" height="113.40" fill="#7f7f7f"/>
<rect x="904.95" y="1092.73" width="15.70" height="96.37" fill="#fff"/>
<rect x="904.95" y="849.38" width="15.70" height="243.35" fill="#c6c6c6"/>
<rect x="904.95" y="702.40" width="15.70" height="146.98" fill="#7f7f7f"/>
<rect x="920.65" y="945.75" width="15.70" height="243.35" fill="#c6c6c6"/>
<rect x="920.65" y="702.40" width="15.70" height="243.35" fill="#7f7f7f"/>
<rect x="936.35" y="1027.81" width="15.70" height="161.29" fill="#c6c6c6"/>
<rect x="936.35" y="702.40" width="15.70" height="325.41" fill="#7f7f7f"/>
<rect x="952.05" y="1120.67" width="15.70" height="68.43" fill="#fff"/>
<rect x="952.05" y="772.97" width="15.70" height="347.70" fill="#c6c6c6"/>
<rect x="952.05" y="702.40" width="15.70" height="70.57" fill="#7f7f7f"/>
<rect x="983.45" y="945.75" width="15.70" height="243.35" fill="#fff"/>
<rect x="983.45" y="702.40" width="15.70" height="243.35" fill="#c6c6c6"/>
<rect x="999.15" y="1027.81" width="15.70" height="161.29" fill="#fff"/>
<rect x="999.15" y="702.40" width="15.70" height="325.41" fill="#c6c6c6"/>
<rect x="1030.55" y="702.40" width="15.70" height="486.70" fill="#c6c6c6"/>
<rect x="1077.65" y="702.40" width="15.70" height="486.70" fill="#7f7f7f"/>
<rect x="1093.35" y="945.75" width="15.70" height="243.35" fill="#fff"/>
<rect x="1093.35" y="702.40" width="15.70" height="243.35" fill="#c6c6c6"/>
<rect x="1124.75" y="702.40" width="15.70" height="486.70" fill="#7f7f7f"/>
<rect x="1140.45" y="702.40" width="15.70" height="486.70" fill="#c6c6c6"/>
<rect x="1156.15" y="702.40" width="15.70" height="486.70" fill="#c6c6c6"/>
<rect x="1171.85" y="945.75" width="15.70" height="243.35" fill="#c6c6c6"/>
<rect x="1171.85" y="702.40" width="15.70" height="243.35" fill="#7f7f7f"/>
<rect x="1187.55" y="702.40" width="15.70" height="486.70" fill="#c6c6c6"/>
<rect x="1203.25" y="702.40" width="15.70" height="486.70" fill="#c6c6c6"/>
<rect x="1234.65" y="702.40" width="15.70" height="486.70" fill="#7f7f7f"/>
<line x1="779.35" y1="825.05" x2="779.35" y2="702.40" stroke="#262626" stroke-width="1.8"/>
<line x1="795.05" y1="825.05" x2="795.05" y2="702.40" stroke="#262626" stroke-width="1.8"/>
<line x1="779.35" y1="1189.10" x2="779.35" y2="824.05" stroke="#000" stroke-width="2.0"/>
<line x1="795.05" y1="1189.10" x2="795.05" y2="824.05" stroke="#000" stroke-width="2.0"/>
<line x1="779.35" y1="825.05" x2="795.05" y2="825.05" stroke="#000" stroke-width="2.0"/>
<line x1="795.05" y1="865.93" x2="795.05" y2="702.40" stroke="#262626" stroke-width="1.8"/>
<line x1="810.75" y1="865.93" x2="810.75" y2="702.40" stroke="#262626" stroke-width="1.8"/>
<line x1="795.05" y1="1189.10" x2="795.05" y2="864.93" stroke="#000" stroke-width="2.0"/>
<line x1="810.75" y1="1189.10" x2="810.75" y2="864.93" stroke="#000" stroke-width="2.0"/>
<line x1="795.05" y1="865.93" x2="810.75" y2="865.93" stroke="#000" stroke-width="2.0"/>
<line x1="810.75" y1="792.44" x2="810.75" y2="702.40" stroke="#262626" stroke-width="1.8"/>
<line x1="826.45" y1="792.44" x2="826.45" y2="702.40" stroke="#262626" stroke-width="1.8"/>
<line x1="810.75" y1="1189.10" x2="810.75" y2="791.44" stroke="#000" stroke-width="2.0"/>
<line x1="826.45" y1="1189.10" x2="826.45" y2="791.44" stroke="#000" stroke-width="2.0"/>
<line x1="810.75" y1="792.44" x2="826.45" y2="792.44" stroke="#000" stroke-width="2.0"/>
<line x1="826.45" y1="778.33" x2="826.45" y2="702.40" stroke="#262626" stroke-width="1.8"/>
<line x1="842.15" y1="778.33" x2="842.15" y2="702.40" stroke="#262626" stroke-width="1.8"/>
<line x1="826.45" y1="1189.10" x2="826.45" y2="777.33" stroke="#000" stroke-width="2.0"/>
<line x1="842.15" y1="1189.10" x2="842.15" y2="777.33" stroke="#000" stroke-width="2.0"/>
<line x1="826.45" y1="778.33" x2="842.15" y2="778.33" stroke="#000" stroke-width="2.0"/>
<line x1="842.15" y1="865.93" x2="842.15" y2="702.40" stroke="#262626" stroke-width="1.8"/>
<line x1="857.85" y1="865.93" x2="857.85" y2="702.40" stroke="#262626" stroke-width="1.8"/>
<line x1="842.15" y1="1189.10" x2="842.15" y2="864.93" stroke="#000" stroke-width="2.0"/>
<line x1="857.85" y1="1189.10" x2="857.85" y2="864.93" stroke="#000" stroke-width="2.0"/>
<line x1="842.15" y1="865.93" x2="857.85" y2="865.93" stroke="#000" stroke-width="2.0"/>
<line x1="857.85" y1="930.66" x2="857.85" y2="702.40" stroke="#262626" stroke-width="1.8"/>
<line x1="873.55" y1="930.66" x2="873.55" y2="702.40" stroke="#262626" stroke-width="1.8"/>
<line x1="857.85" y1="1189.10" x2="857.85" y2="929.66" stroke="#000" stroke-width="2.0"/>
<line x1="873.55" y1="1189.10" x2="873.55" y2="929.66" stroke="#000" stroke-width="2.0"/>
<line x1="857.85" y1="930.66" x2="873.55" y2="930.66" stroke="#000" stroke-width="2.0"/>
<line x1="873.55" y1="1007.80" x2="873.55" y2="702.40" stroke="#262626" stroke-width="1.8"/>
<line x1="889.25" y1="1007.80" x2="889.25" y2="702.40" stroke="#262626" stroke-width="1.8"/>
<line x1="873.55" y1="1189.10" x2="873.55" y2="1006.80" stroke="#000" stroke-width="2.0"/>
<line x1="889.25" y1="1189.10" x2="889.25" y2="1006.80" stroke="#000" stroke-width="2.0"/>
<line x1="873.55" y1="1007.80" x2="889.25" y2="1007.80" stroke="#000" stroke-width="2.0"/>
<line x1="889.25" y1="965.85" x2="889.25" y2="702.40" stroke="#262626" stroke-width="1.8"/>
<line x1="904.95" y1="965.85" x2="904.95" y2="702.40" stroke="#262626" stroke-width="1.8"/>
<line x1="889.25" y1="1189.10" x2="889.25" y2="964.85" stroke="#000" stroke-width="2.0"/>
<line x1="904.95" y1="1189.10" x2="904.95" y2="964.85" stroke="#000" stroke-width="2.0"/>
<line x1="889.25" y1="965.85" x2="904.95" y2="965.85" stroke="#000" stroke-width="2.0"/>
<line x1="889.25" y1="815.80" x2="904.95" y2="815.80" stroke="#000" stroke-width="2.0"/>
<line x1="904.95" y1="1092.73" x2="904.95" y2="702.40" stroke="#262626" stroke-width="1.8"/>
<line x1="920.65" y1="1092.73" x2="920.65" y2="702.40" stroke="#262626" stroke-width="1.8"/>
<line x1="904.95" y1="1189.10" x2="904.95" y2="1091.73" stroke="#000" stroke-width="2.0"/>
<line x1="920.65" y1="1189.10" x2="920.65" y2="1091.73" stroke="#000" stroke-width="2.0"/>
<line x1="904.95" y1="1092.73" x2="920.65" y2="1092.73" stroke="#000" stroke-width="2.0"/>
<line x1="904.95" y1="849.38" x2="920.65" y2="849.38" stroke="#000" stroke-width="2.0"/>
<line x1="920.65" y1="1189.10" x2="920.65" y2="702.40" stroke="#262626" stroke-width="1.8"/>
<line x1="936.35" y1="1189.10" x2="936.35" y2="702.40" stroke="#262626" stroke-width="1.8"/>
<line x1="920.65" y1="945.75" x2="936.35" y2="945.75" stroke="#000" stroke-width="2.0"/>
<line x1="936.35" y1="1189.10" x2="936.35" y2="702.40" stroke="#262626" stroke-width="1.8"/>
<line x1="952.05" y1="1189.10" x2="952.05" y2="702.40" stroke="#262626" stroke-width="1.8"/>
<line x1="936.35" y1="1027.81" x2="952.05" y2="1027.81" stroke="#000" stroke-width="2.0"/>
<line x1="952.05" y1="1120.67" x2="952.05" y2="702.40" stroke="#262626" stroke-width="1.8"/>
<line x1="967.75" y1="1120.67" x2="967.75" y2="702.40" stroke="#262626" stroke-width="1.8"/>
<line x1="952.05" y1="1189.10" x2="952.05" y2="1119.67" stroke="#000" stroke-width="2.0"/>
<line x1="967.75" y1="1189.10" x2="967.75" y2="1119.67" stroke="#000" stroke-width="2.0"/>
<line x1="952.05" y1="1120.67" x2="967.75" y2="1120.67" stroke="#000" stroke-width="2.0"/>
<line x1="952.05" y1="772.97" x2="967.75" y2="772.97" stroke="#000" stroke-width="2.0"/>
<line x1="983.45" y1="945.75" x2="983.45" y2="702.40" stroke="#262626" stroke-width="1.8"/>
<line x1="999.15" y1="945.75" x2="999.15" y2="702.40" stroke="#262626" stroke-width="1.8"/>
<line x1="983.45" y1="1189.10" x2="983.45" y2="944.75" stroke="#000" stroke-width="2.0"/>
<line x1="999.15" y1="1189.10" x2="999.15" y2="944.75" stroke="#000" stroke-width="2.0"/>
<line x1="983.45" y1="945.75" x2="999.15" y2="945.75" stroke="#000" stroke-width="2.0"/>
<line x1="999.15" y1="1027.81" x2="999.15" y2="702.40" stroke="#262626" stroke-width="1.8"/>
<line x1="1014.85" y1="1027.81" x2="1014.85" y2="702.40" stroke="#262626" stroke-width="1.8"/>
<line x1="999.15" y1="1189.10" x2="999.15" y2="1026.81" stroke="#000" stroke-width="2.0"/>
<line x1="1014.85" y1="1189.10" x2="1014.85" y2="1026.81" stroke="#000" stroke-width="2.0"/>
<line x1="999.15" y1="1027.81" x2="1014.85" y2="1027.81" stroke="#000" stroke-width="2.0"/>
<line x1="1030.55" y1="1189.10" x2="1030.55" y2="702.40" stroke="#262626" stroke-width="1.8"/>
<line x1="1046.25" y1="1189.10" x2="1046.25" y2="702.40" stroke="#262626" stroke-width="1.8"/>
<line x1="1077.65" y1="1189.10" x2="1077.65" y2="702.40" stroke="#262626" stroke-width="1.8"/>
<line x1="1093.35" y1="1189.10" x2="1093.35" y2="702.40" stroke="#262626" stroke-width="1.8"/>
<line x1="1093.35" y1="945.75" x2="1093.35" y2="702.40" stroke="#262626" stroke-width="1.8"/>
<line x1="1109.05" y1="945.75" x2="1109.05" y2="702.40" stroke="#262626" stroke-width="1.8"/>
<line x1="1093.35" y1="1189.10" x2="1093.35" y2="944.75" stroke="#000" stroke-width="2.0"/>
<line x1="1109.05" y1="1189.10" x2="1109.05" y2="944.75" stroke="#000" stroke-width="2.0"/>
<line x1="1093.35" y1="945.75" x2="1109.05" y2="945.75" stroke="#000" stroke-width="2.0"/>
<line x1="1124.75" y1="1189.10" x2="1124.75" y2="702.40" stroke="#262626" stroke-width="1.8"/>
<line x1="1140.45" y1="1189.10" x2="1140.45" y2="702.40" stroke="#262626" stroke-width="1.8"/>
<line x1="1140.45" y1="1189.10" x2="1140.45" y2="702.40" stroke="#262626" stroke-width="1.8"/>
<line x1="1156.15" y1="1189.10" x2="1156.15" y2="702.40" stroke="#262626" stroke-width="1.8"/>
<line x1="1156.15" y1="1189.10" x2="1156.15" y2="702.40" stroke="#262626" stroke-width="1.8"/>
<line x1="1171.85" y1="1189.10" x2="1171.85" y2="702.40" stroke="#262626" stroke-width="1.8"/>
<line x1="1171.85" y1="1189.10" x2="1171.85" y2="702.40" stroke="#262626" stroke-width="1.8"/>
<line x1="1187.55" y1="1189.10" x2="1187.55" y2="702.40" stroke="#262626" stroke-width="1.8"/>
<line x1="1171.85" y1="945.75" x2="1187.55" y2="945.75" stroke="#000" stroke-width="2.0"/>
<line x1="1187.55" y1="1189.10" x2="1187.55" y2="702.40" stroke="#262626" stroke-width="1.8"/>
<line x1="1203.25" y1="1189.10" x2="1203.25" y2="702.40" stroke="#262626" stroke-width="1.8"/>
<line x1="1203.25" y1="1189.10" x2="1203.25" y2="702.40" stroke="#262626" stroke-width="1.8"/>
<line x1="1218.95" y1="1189.10" x2="1218.95" y2="702.40" stroke="#262626" stroke-width="1.8"/>
<line x1="1234.65" y1="1189.10" x2="1234.65" y2="702.40" stroke="#262626" stroke-width="1.8"/>
<line x1="1250.35" y1="1189.10" x2="1250.35" y2="702.40" stroke="#262626" stroke-width="1.8"/>
<line x1="771.50" y1="701.40" x2="771.50" y2="1190.10" stroke="#000" stroke-width="2.0"/>
<line x1="1259.10" y1="701.40" x2="1259.10" y2="1190.10" stroke="#000" stroke-width="2.0"/>
<line x1="764.00" y1="702.40" x2="1275.10" y2="702.40" stroke="#000" stroke-width="2.0"/>
<line x1="764.00" y1="1189.10" x2="1275.10" y2="1189.10" stroke="#000" stroke-width="2.0"/>
<line x1="764.00" y1="1189.10" x2="771.50" y2="1189.10" stroke="#000" stroke-width="2.0"/>
<text x="753.50" y="1198.10" text-anchor="end" font-size="27.5" >0.0</text>
<line x1="764.00" y1="1091.76" x2="771.50" y2="1091.76" stroke="#000" stroke-width="2.0"/>
<text x="753.50" y="1100.76" text-anchor="end" font-size="27.5" >0.2</text>
<line x1="764.00" y1="994.42" x2="771.50" y2="994.42" stroke="#000" stroke-width="2.0"/>
<text x="753.50" y="1003.42" text-anchor="end" font-size="27.5" >0.4</text>
<line x1="764.00" y1="897.08" x2="771.50" y2="897.08" stroke="#000" stroke-width="2.0"/>
<text x="753.50" y="906.08" text-anchor="end" font-size="27.5" >0.6</text>
<line x1="764.00" y1="799.74" x2="771.50" y2="799.74" stroke="#000" stroke-width="2.0"/>
<text x="753.50" y="808.74" text-anchor="end" font-size="27.5" >0.8</text>
<line x1="764.00" y1="702.40" x2="771.50" y2="702.40" stroke="#000" stroke-width="2.0"/>
<text x="753.50" y="711.40" text-anchor="end" font-size="27.5" >1.0</text>
<line x1="1259.10" y1="702.40" x2="1275.10" y2="702.40" stroke="#000" stroke-width="2.0"/>
<text x="1283.00" y="711.30" text-anchor="start" font-size="27.5" >10</text>
<line x1="1259.10" y1="945.75" x2="1275.10" y2="945.75" stroke="#000" stroke-width="2.0"/>
<text x="1283.00" y="953.50" text-anchor="start" font-size="27.5" >1</text>
<line x1="1259.10" y1="1189.10" x2="1275.10" y2="1189.10" stroke="#000" stroke-width="2.0"/>
<text x="1283.00" y="1195.50" text-anchor="start" font-size="27.5" >0.1</text>
<line x1="771.50" y1="1189.10" x2="771.50" y2="1196.70" stroke="#000" stroke-width="2.0"/>
<text transform="translate(771.50,1226.00) scale(1,1.1)" text-anchor="middle" font-size="26.5" >0</text>
<line x1="850.00" y1="1189.10" x2="850.00" y2="1196.70" stroke="#000" stroke-width="2.0"/>
<text transform="translate(850.00,1226.00) scale(1,1.1)" text-anchor="middle" font-size="26.5" >5</text>
<line x1="928.50" y1="1189.10" x2="928.50" y2="1196.70" stroke="#000" stroke-width="2.0"/>
<text transform="translate(928.50,1226.00) scale(1,1.1)" text-anchor="middle" font-size="26.5" >10</text>
<line x1="1007.00" y1="1189.10" x2="1007.00" y2="1196.70" stroke="#000" stroke-width="2.0"/>
<text transform="translate(1007.00,1226.00) scale(1,1.1)" text-anchor="middle" font-size="26.5" >15</text>
<line x1="1085.50" y1="1189.10" x2="1085.50" y2="1196.70" stroke="#000" stroke-width="2.0"/>
<text transform="translate(1085.50,1226.00) scale(1,1.1)" text-anchor="middle" font-size="26.5" >20</text>
<line x1="1164.00" y1="1189.10" x2="1164.00" y2="1196.70" stroke="#000" stroke-width="2.0"/>
<text transform="translate(1164.00,1226.00) scale(1,1.1)" text-anchor="middle" font-size="26.5" >25</text>
<line x1="1242.50" y1="1189.10" x2="1242.50" y2="1196.70" stroke="#000" stroke-width="2.0"/>
<text transform="translate(1242.50,1226.00) scale(1,1.1)" text-anchor="middle" font-size="26.5" >30</text>
<text x="1010.70" y="679.30" text-anchor="middle" font-size="27.5" >d</text>
<polyline points="787.10,427.00 802.80,387.00 818.50,355.00 834.20,345.00 849.90,326.00 865.60,326.00 881.30,299.00 897.00,293.00 912.70,299.00 928.40,343.00 944.10,319.00 959.80,354.00 975.50,327.00 991.20,261.60 1006.90,257.60 1022.60,212.50 1038.30,202.70 1054.00,212.50 1069.70,215.00 1085.40,215.00 1101.10,188.00 1116.80,141.00 1132.50,136.70 1148.20,137.00 1163.90,148.80 1179.60,138.00 1195.30,111.60 1211.00,63.50 1226.70,62.00 1242.40,45.00" fill="none" stroke="#000" stroke-width="3.5" stroke-linejoin="round" stroke-linecap="butt" clip-path="url(#clipb)"/>
<polyline points="141.10,1105.00 156.80,1079.00 172.50,1046.00 188.20,1031.00 203.90,1061.00 219.60,1080.00 235.30,1031.00 251.00,1046.00 262.00,1192.00" fill="none" stroke="#000" stroke-width="3.5" stroke-linejoin="round" stroke-linecap="butt" clip-path="url(#clipc)"/>
<polyline points="272.40,1192.00 282.40,1060.00 298.10,1018.00 313.80,998.00 329.50,1135.00 345.20,1080.00 360.90,1080.00 376.60,1080.00 392.30,1080.00 408.00,1032.00 423.70,1032.00 439.40,1045.00 451.00,1192.00" fill="none" stroke="#000" stroke-width="3.5" stroke-linejoin="round" stroke-linecap="butt" clip-path="url(#clipc)"/>
<polyline points="547.00,1192.00 549.30,1178.00 565.00,1178.00 568.50,1192.00" fill="none" stroke="#000" stroke-width="3.5" stroke-linejoin="round" stroke-linecap="butt" clip-path="url(#clipc)"/>
<polyline points="787.20,1032.40 802.90,1020.00 818.60,997.00 834.30,981.00 850.00,965.60 865.70,965.60 881.40,958.40 897.10,980.00 912.80,1007.00 928.50,1105.60 944.20,1133.60 959.90,1045.00 963.00,1192.00" fill="none" stroke="#000" stroke-width="3.5" stroke-linejoin="round" stroke-linecap="butt" clip-path="url(#clipd)"/>
<polyline points="990.50,1192.00 991.30,1179.00 1007.00,1133.00 1008.80,1192.00" fill="none" stroke="#000" stroke-width="3.5" stroke-linejoin="round" stroke-linecap="butt" clip-path="url(#clipd)"/>
<polyline points="1099.00,1192.00 1102.20,1179.00 1102.50,1192.00" fill="none" stroke="#000" stroke-width="3.5" stroke-linejoin="round" stroke-linecap="butt" clip-path="url(#clipd)"/>
<polyline points="1177.40,1192.00 1180.00,1179.00 1183.00,1192.00" fill="none" stroke="#000" stroke-width="3.5" stroke-linejoin="round" stroke-linecap="butt" clip-path="url(#clipd)"/>
<text transform="translate(25.6,613.5) rotate(-90)" text-anchor="middle" font-size="27.75">Vertical distribution of <tspan font-style="italic">N. californicus</tspan> (proportion)</text>
<text transform="translate(1377.6,615.4) rotate(-90) scale(1,1.08)" text-anchor="middle" font-size="27.5"><tspan font-style="italic">N. californicus</tspan> per leaf (log scale)</text>
<text x="704.00" y="1269.00" text-anchor="middle" font-size="27.5" >Days</text>
</g></svg>
</body></html>
